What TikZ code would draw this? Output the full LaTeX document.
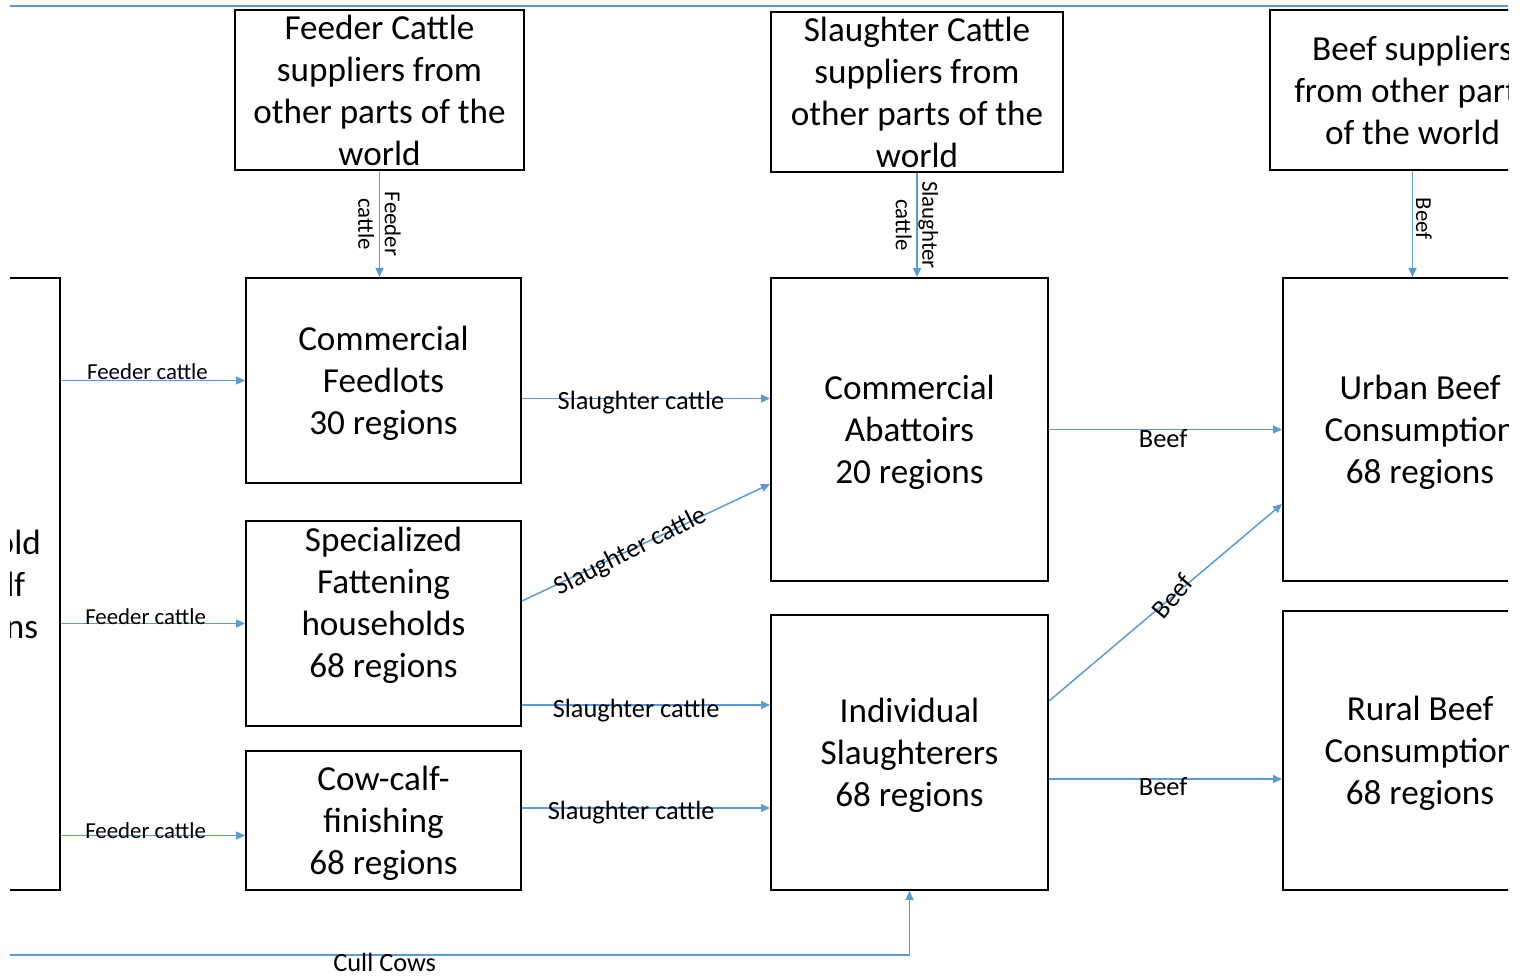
\documentclass[tikz,border=0pt]{standalone}
\usepackage{fontspec}
\setmainfont{Carlito}
\usetikzlibrary{arrows.meta}
\definecolor{flowblue}{RGB}{91,155,213}

\begin{document}
\begin{tikzpicture}[
  x=0.2mm,y=-0.2mm,
  >={Triangle[length=1.8mm,width=1.6mm]},
  box/.style={draw,line width=0.4mm,align=center,inner sep=0pt,text depth=0pt,font=\fontsize{20}{23.9}\selectfont},
  flow/.style={->,draw=flowblue,line width=0.3mm},
  wire/.style={draw=flowblue,line width=0.3mm},
  tag/.style={font=\fontsize{15}{18}\selectfont,inner sep=0pt,text=black},
  smalltag/.style={font=\fontsize{13}{15}\selectfont,inner sep=0pt,align=center,text=black}
]
  \useasboundingbox (0,0) rectangle (1526,979);
  \begin{scope}
  \clip (10,0) rectangle (1508,979);

  \node[box,minimum width=57.8mm,minimum height=32mm] (feedsup) at (379.5,90)
    {Feeder Cattle\\suppliers from\\other parts of the\\world};
  \node[box,minimum width=58.4mm,minimum height=32mm] (slaughsup) at (917,92)
    {Slaughter Cattle\\suppliers from\\other parts of the\\world};
  \node[box,minimum width=57mm,minimum height=32mm] (beefsup) at (1412.5,90)
    {Beef suppliers\\from other parts\\of the world};

  \node[box,minimum width=38.4mm,minimum height=122.4mm] (cowcalf) at (-36,584)
    {Household\\Cow-calf\\68 regions};

  \node[box,minimum width=55mm,minimum height=41mm] (feedlots) at (383.5,380.5)
    {Commercial\\Feedlots\\30 regions};
  \node[box,minimum width=55mm,minimum height=41mm] (fattening) at (383.5,623.5)
    {Specialized\\Fattening\\households\\68 regions\\\strut};
  \node[box,minimum width=55mm,minimum height=27.8mm] (finishing) at (383.5,820.5)
    {Cow-calf-\\finishing\\68 regions};

  \node[box,minimum width=55.4mm,minimum height=60.6mm] (abattoirs) at (909.5,429.5)
    {Commercial\\Abattoirs\\20 regions};
  \node[box,minimum width=55.4mm,minimum height=55mm] (slaughterers) at (909.5,752.5)
    {Individual\\Slaughterers\\68 regions};

  \node[box,minimum width=54.8mm,minimum height=60.6mm] (urban) at (1420,429.5)
    {Urban Beef\\Consumption\\68 regions};
  \node[box,minimum width=54.8mm,minimum height=55.8mm] (rural) at (1420,750.5)
    {Rural Beef\\Consumption\\68 regions};

  \coordinate (topl) at (0,6);
  \coordinate (topr) at (1526,6);
  \draw[wire] (topl) -- (topr);

  \draw[flow] (feedsup.south) -- node[smalltag,rotate=-90]{Feeder\\cattle} (feedsup.south |- feedlots.north);
  \draw[flow] (slaughsup.south) -- node[smalltag,rotate=-90]{Slaughter\\cattle} (slaughsup.south |- abattoirs.north);
  \draw[flow] (beefsup.south) -- node[smalltag,rotate=-90,anchor=south,pos=.45,inner sep=1.5pt]{Beef} (beefsup.south |- urban.north);

  \coordinate (f3) at ([yshift=-3mm]finishing.west);
  \draw[flow] (cowcalf.east |- feedlots.west) -- node[smalltag,pos=.47,yshift=1.8mm]{Feeder cattle} (feedlots.west);
  \draw[flow] (cowcalf.east |- fattening.west) -- node[smalltag,pos=.46,yshift=1.4mm]{Feeder cattle} (fattening.west);
  \draw[flow] (cowcalf.east |- f3) -- node[smalltag,pos=.46,yshift=1mm]{Feeder cattle} (f3);

  \coordinate (s1) at ([yshift=-3.6mm]feedlots.east);
  \coordinate (s2a) at ([yshift=4.5mm]fattening.east);
  \coordinate (s2b) at ([yshift=-10.9mm]abattoirs.west);
  \coordinate (s3) at ([yshift=-16.3mm]fattening.east);
  \coordinate (s4) at ([yshift=2.5mm]finishing.east);
  \draw[flow] (s1) -- node[tag,pos=.48,yshift=-0.8mm]{Slaughter cattle} (s1 -| abattoirs.west);
  \draw[flow] (s2a) -- node[tag,rotate=27,pos=.436,yshift=-0.4mm]{Slaughter cattle} (s2b);
  \draw[flow] (s3) -- node[tag,pos=.46,yshift=-1.2mm]{Slaughter cattle} (s3 -| slaughterers.west);
  \draw[flow] (s4) -- node[tag,pos=.44,yshift=-1mm]{Slaughter cattle} (s4 -| slaughterers.west);

  \coordinate (b2a) at ([yshift=10.3mm]slaughterers.east);
  \coordinate (b2b) at ([yshift=-14.9mm]urban.west);
  \coordinate (b3) at ([yshift=-5.3mm]slaughterers.east);
  \draw[flow] (abattoirs.east) -- node[tag,pos=.49,yshift=-1.8mm]{Beef} (abattoirs.east -| urban.west);
  \draw[flow] (b2a) -- node[tag,rotate=50,pos=.53]{Beef} (b2b);
  \draw[flow] (b3) -- node[tag,pos=.49,yshift=-1.6mm]{Beef} (b3 -| rural.west);

  \coordinate (cull) at (0,955);
  \draw[flow] (cull) -- node[tag,pos=.423,yshift=-1.4mm]{Cull Cows} (cull -| slaughterers.south) -- (slaughterers.south);
  \end{scope}
\end{tikzpicture}
\end{document}
